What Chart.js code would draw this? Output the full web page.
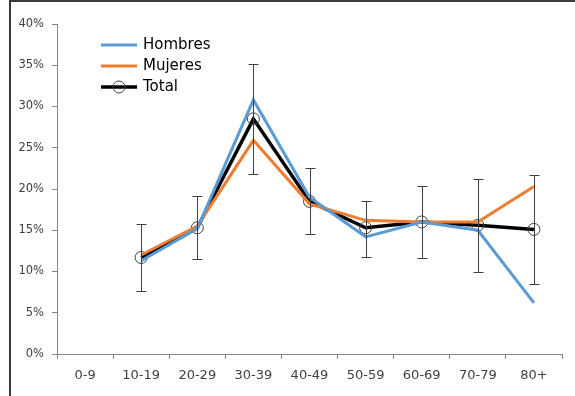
<!DOCTYPE html>
<html>
<head>
<meta charset="utf-8">
<script src="https://cdn.jsdelivr.net/npm/chart.js@4/dist/chart.umd.min.js"></script>
<style>
  html, body { margin: 0; padding: 0; background: #fff; }
  #wrap { width: 575px; height: 396px; position: relative; }
</style>
</head>
<body>
<div id="wrap"><canvas id="c" width="575" height="396"></canvas></div>
<script>
// Age groups
const categories = ['0-9', '10-19', '20-29', '30-39', '40-49', '50-59', '60-69', '70-79', '80+'];
// Share per age group (%)
const hombres = [null, 11.3, 15.2, 30.8, 19.0, 14.2, 16.0, 15.0, 6.2];
const mujeres = [null, 12.0, 15.5, 25.9, 18.2, 16.2, 16.0, 16.0, 20.3];
const total   = [null, 11.7, 15.3, 28.5, 18.5, 15.3, 16.0, 15.6, 15.1];
// Confidence interval bounds for the total (%)
const totalLow  = [null, 7.6, 11.5, 21.8, 14.5, 11.8, 11.6, 9.9, 8.5];
const totalHigh = [null, 15.8, 19.1, 35.2, 22.6, 18.6, 20.4, 21.2, 21.7];
// Y axis ticks
const yTicks = [0, 5, 10, 15, 20, 25, 30, 35, 40];

const FONT = 'Verdana, "DejaVu Sans", sans-serif';

// Error bars for the total series
const errorBars = {
  id: 'errorBars',
  afterDatasetsDraw(chart) {
    const { ctx, scales: { x, y } } = chart;
    ctx.save();
    ctx.strokeStyle = '#404040';
    ctx.lineWidth = 1;
    totalLow.forEach((lo, i) => {
      const hi = totalHigh[i];
      if (lo == null || hi == null) return;
      const px = Math.round(x.getPixelForValue(i)) + 0.5;
      const yl = Math.round(y.getPixelForValue(lo)) + 0.5;
      const yh = Math.round(y.getPixelForValue(hi)) + 0.5;
      ctx.beginPath();
      ctx.moveTo(px, yl); ctx.lineTo(px, yh);
      ctx.moveTo(px - 5, yl); ctx.lineTo(px + 5, yl);
      ctx.moveTo(px - 5, yh); ctx.lineTo(px + 5, yh);
      ctx.stroke();
    });
    ctx.restore();
  }
};

// Legend in the upper left of the plot, plus the outer frame
const customLegend = {
  id: 'customLegend',
  afterDraw(chart) {
    const { ctx } = chart;
    ctx.save();
    // frame
    ctx.strokeStyle = '#3a3a3a';
    ctx.lineWidth = 2;
    ctx.beginPath();
    ctx.moveTo(575, 1); ctx.lineTo(10, 1); ctx.lineTo(10, 396);
    ctx.stroke();

    const x0 = 101, x1 = 137, tx = 143;
    const rows = [45, 66, 87];
    chart.data.datasets.forEach((ds, i) => {
      const yy = rows[i];
      ctx.strokeStyle = ds.borderColor;
      ctx.lineWidth = ds.borderWidth;
      ctx.beginPath(); ctx.moveTo(x0, yy); ctx.lineTo(x1, yy); ctx.stroke();
      if (ds.pointRadius > 0) {
        ctx.lineWidth = 1;
        ctx.strokeStyle = ds.pointBorderColor;
        ctx.beginPath(); ctx.arc((x0 + x1) / 2, yy, ds.pointRadius, 0, Math.PI * 2); ctx.stroke();
      }
      ctx.fillStyle = '#000';
      ctx.font = '15px ' + FONT;
      ctx.textBaseline = 'middle';
      ctx.textAlign = 'left';
      ctx.fillText(ds.label, tx, yy);
    });
    ctx.restore();
  }
};

new Chart(document.getElementById('c'), {
  type: 'line',
  data: {
    labels: categories,
    datasets: [
      { label: 'Hombres', data: hombres, borderColor: '#5b9bd5', borderWidth: 3, pointRadius: 0, tension: 0 },
      { label: 'Mujeres', data: mujeres, borderColor: '#ed7d31', borderWidth: 3, pointRadius: 0, tension: 0 },
      { label: 'Total', data: total, borderColor: '#000000', borderWidth: 3.5, pointRadius: 6,
        pointBorderColor: '#404040', pointBorderWidth: 1, pointBackgroundColor: 'rgba(255,255,255,0)', tension: 0 }
    ]
  },
  options: {
    responsive: false,
    animation: false,
    events: [],
    layout: { padding: { top: 24, right: 13, left: 0, bottom: 0 } },
    plugins: { legend: { display: false }, tooltip: { enabled: false } },
    scales: {
      x: {
        offset: true,
        grid: { offset: true, drawOnChartArea: false, drawTicks: true, tickLength: 5, color: '#868686' },
        border: { color: '#868686', width: 1 },
        ticks: { color: '#404040', font: { family: FONT, size: 13 }, padding: 9, maxRotation: 0, autoSkip: false },
        afterFit(s) { s.height = 42; }
      },
      y: {
        min: 0, max: 40,
        afterBuildTicks(s) { s.ticks = yTicks.map(v => ({ value: v })); },
        grid: { drawOnChartArea: false, drawTicks: true, tickLength: 5, color: '#868686' },
        border: { color: '#868686', width: 1 },
        ticks: { color: '#404040', font: { family: FONT, size: 11.5 }, padding: 8, callback: v => v + '%' },
        afterFit(s) { s.width = 57; }
      }
    }
  },
  plugins: [errorBars, customLegend]
});
</script>
</body>
</html>
